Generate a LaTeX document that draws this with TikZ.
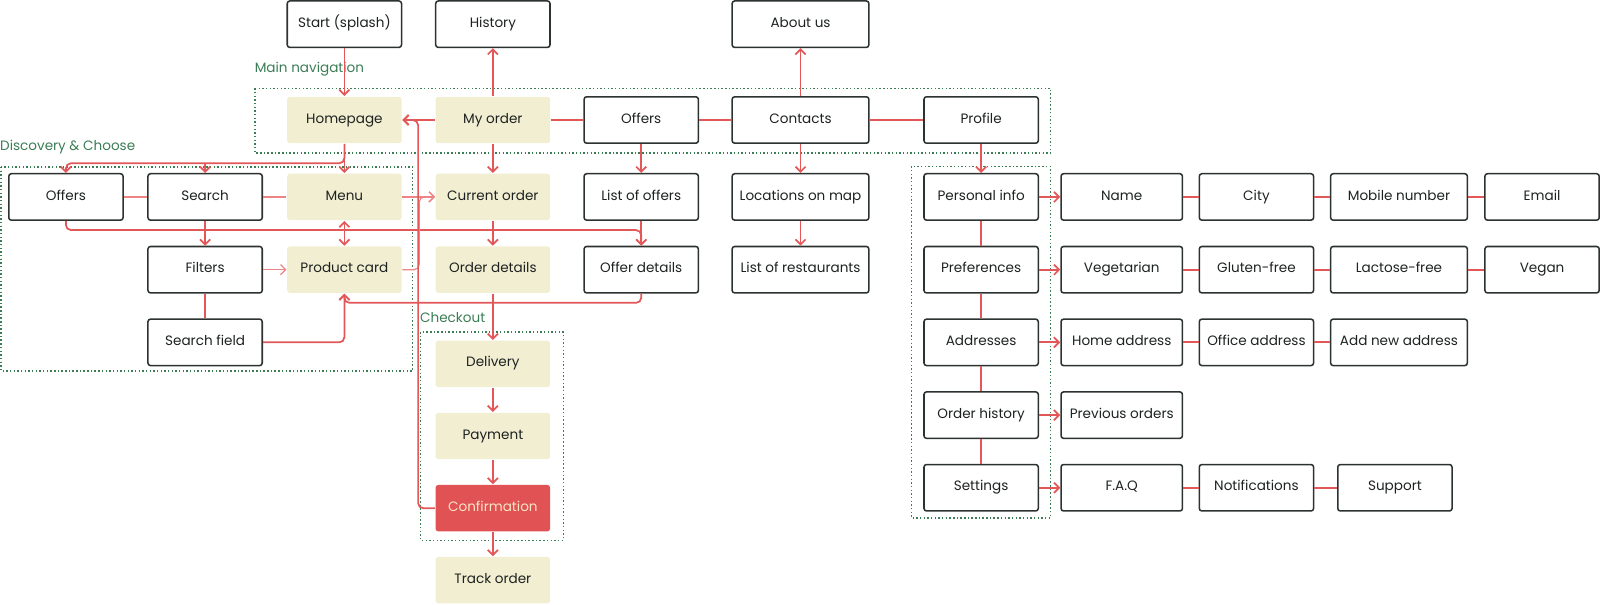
\documentclass[tikz,border=0pt]{standalone}
\usepackage{fontspec}
\setmainfont{Poppins}
\usepackage{xcolor}
\usepackage{tikz}
\usetikzlibrary{arrows.meta}

\definecolor{linkred}{HTML}{E25757}
\definecolor{softred}{HTML}{EE8585}
\definecolor{boxline}{HTML}{2C3230}
\definecolor{cream}{HTML}{F2EED2}
\definecolor{alert}{HTML}{E15254}
\definecolor{alerttext}{HTML}{F7E6C6}
\definecolor{groupgreen}{HTML}{3B7D55}
\definecolor{inktext}{HTML}{1E2321}

\tikzset{
  screen/.style={rectangle, draw=boxline, line width=1.5pt, rounded corners=2.5pt,
    fill=white, text=inktext, minimum width=112pt, minimum height=45.5pt, inner sep=0pt,
    text height=9pt, text depth=3pt, font=\fontsize{13.3pt}{15pt}\selectfont},
  mainscreen/.style={screen, draw=none, fill=cream},
  alertscreen/.style={screen, draw=none, fill=alert, text=alerttext},
  link/.style={draw=linkred, line width=1.7pt},
  softlink/.style={draw=softred, line width=1.2pt},
  group/.style={draw=groupgreen, line width=1.4pt, dash pattern=on 1.4pt off 2.2pt},
  grouplabel/.style={text=groupgreen, anchor=west, inner sep=0pt,
    font=\fontsize{13.3pt}{15pt}\selectfont},
  >={Straight Barb[length=5pt,width=10pt]}
}

\begin{document}
\begin{tikzpicture}[x=1pt, y=-1pt]
        \useasboundingbox (0,0) rectangle (1568,592);

        % Define the groups
        \draw[group] (250,86.5) rectangle (1029.5,150);
        \draw[group] (1,163.5) rectangle (404.5,363.5);
        \draw[group] (412.3,325.5) rectangle (552,529.5);
        \draw[group] (893.3,163) rectangle (1029.3,507.5);
        \node[grouplabel] (navlabel) at (249.5,67.5) {Main navigation};
        \node[grouplabel] (disclabel) at (0,144.5) {Discovery \& Choose};
        \node[grouplabel] (checklabel) at (411.5,311) {Checkout};

        % Define the nodes
        \node[screen] (start) at (337.5,23.7) {Start (splash)};
        \node[screen] (history) at (483,23.7) {History};
        \node[screen, minimum width=134pt] (about) at (784.5,23.7) {About us};

        \node[mainscreen] (home) at (337.5,117.6) {Homepage};
        \node[mainscreen] (myorder) at (483,117.6) {My order};
        \node[screen] (offers) at (628.4,117.6) {Offers};
        \node[screen, minimum width=134pt] (contacts) at (784.5,117.6) {Contacts};
        \node[screen] (profile) at (961.5,117.6) {Profile};

        \node[screen] (offersd) at (64.6,193) {Offers};
        \node[screen] (search) at (201,193) {Search};
        \node[mainscreen] (menu) at (337.5,193) {Menu};
        \node[mainscreen] (curorder) at (483,193) {Current order};
        \node[screen] (offerlist) at (628.4,193) {List of offers};
        \node[screen, minimum width=134pt] (locations) at (784.5,193) {Locations on map};

        \node[screen] (filters) at (201,264.3) {Filters};
        \node[mainscreen] (pcard) at (337.5,264.3) {Product card};
        \node[mainscreen] (orderdet) at (483,264.3) {Order details};
        \node[screen] (offerdet) at (628.4,264.3) {Offer details};
        \node[screen, minimum width=134pt] (restaurants) at (784.5,264.3) {List of restaurants};

        \node[screen] (sfield) at (201,335.5) {Search field};

        \node[mainscreen] (delivery) at (483,356.6) {Delivery};
        \node[mainscreen] (payment) at (483,427.3) {Payment};
        \node[alertscreen] (confirm) at (483,498) {Confirmation};
        \node[mainscreen] (track) at (483,568.6) {Track order};

        \node[screen] (personal) at (961.5,193) {Personal info};
        \node[screen] (prefs) at (961.5,264.3) {Preferences};
        \node[screen] (addresses) at (961.5,335.5) {Addresses};
        \node[screen] (orderhist) at (961.5,406.8) {Order history};
        \node[screen] (settings) at (961.5,478) {Settings};

        \node[screen, minimum width=119pt] (name) at (1099.3,193) {Name};
        \node[screen] (city) at (1231.3,193) {City};
        \node[screen, minimum width=134pt] (mobile) at (1371,193) {Mobile number};
        \node[screen] (email) at (1511.2,193) {Email};

        \node[screen, minimum width=119pt] (veg) at (1099.3,264.3) {Vegetarian};
        \node[screen] (gluten) at (1231.3,264.3) {Gluten-free};
        \node[screen, minimum width=134pt] (lactose) at (1371,264.3) {Lactose-free};
        \node[screen] (vegan) at (1511.2,264.3) {Vegan};

        \node[screen, minimum width=119pt] (homeaddr) at (1099.3,335.5) {Home address};
        \node[screen] (officeaddr) at (1231.3,335.5) {Office address};
        \node[screen, minimum width=134pt] (newaddr) at (1371,335.5) {Add new address};

        \node[screen, minimum width=119pt] (prevorders) at (1099.3,406.8) {Previous orders};

        \node[screen, minimum width=119pt] (faq) at (1099.3,478) {F.A.Q};
        \node[screen] (notif) at (1231.3,478) {Notifications};
        \node[screen] (support) at (1367,478) {Support};

        \coordinate (hb) at (337.5,160);

        % Draw the arrows
        \draw[->, link] (start) -- (home);
        \draw[->, link] (myorder) -- (history);
        \draw[->, link] (contacts) -- (about);
        \draw[->, link] (myorder) -- (home);
        \draw[link] (myorder) -- (offers);
        \draw[link] (offers) -- (contacts);
        \draw[link] (contacts) -- (profile);

        \draw[->, link] (home) -- (menu);
        \draw[->, link, rounded corners=5pt] (home.south) -- (hb) -| (offersd.north);
        \draw[->, link] (hb -| search.north) -- (search.north);
        \draw[softlink] (offersd) -- (search);
        \draw[softlink] (search) -- (menu);
        \draw[->, softlink] (menu) -- (curorder);
        \draw[<->, link] (menu) -- (pcard);
        \draw[->, link] (search) -- (filters);
        \draw[->, softlink] (filters) -- (pcard);
        \draw[link] (filters) -- (sfield);
        \draw[->, link, rounded corners=5pt] (sfield.east) -| (pcard.south);
        \draw[->, link, rounded corners=5pt] (offersd.south) -- ++(0,9) -| (offerdet.north);
        \draw[->, link, rounded corners=5pt] (offerdet.south) -- ++(0,9) -| (pcard.south);
        \draw[->, softlink, rounded corners=5pt] (pcard.east) -- ++(16.5,0) |- (curorder.west);
        \draw[->, link, rounded corners=5pt] (confirm.west) -- ++(-16.5,0) |- (home.east);

        \draw[->, link] (myorder) -- (curorder);
        \draw[->, link] (curorder) -- (orderdet);
        \draw[->, link] (orderdet) -- (delivery);
        \draw[->, link] (delivery) -- (payment);
        \draw[->, link] (payment) -- (confirm);
        \draw[->, link] (confirm) -- (track);
        \draw[->, link] (offers) -- (offerlist);
        \draw[->, link] (offerlist) -- (offerdet);
        \draw[->, link] (contacts) -- (locations);
        \draw[->, link] (locations) -- (restaurants);

        \draw[->, link] (profile) -- (personal);
        \draw[link] (personal) -- (prefs);
        \draw[link] (prefs) -- (addresses);
        \draw[link] (addresses) -- (orderhist);
        \draw[link] (orderhist) -- (settings);

        \draw[->, link] (personal) -- (name);
        \draw[link] (name) -- (city);
        \draw[link] (city) -- (mobile);
        \draw[link] (mobile) -- (email);
        \draw[->, link] (prefs) -- (veg);
        \draw[link] (veg) -- (gluten);
        \draw[link] (gluten) -- (lactose);
        \draw[link] (lactose) -- (vegan);
        \draw[->, link] (addresses) -- (homeaddr);
        \draw[link] (homeaddr) -- (officeaddr);
        \draw[link] (officeaddr) -- (newaddr);
        \draw[->, link] (orderhist) -- (prevorders);
        \draw[->, link] (settings) -- (faq);
        \draw[link] (faq) -- (notif);
        \draw[link] (notif) -- (support);
    \end{tikzpicture}
\end{document}
